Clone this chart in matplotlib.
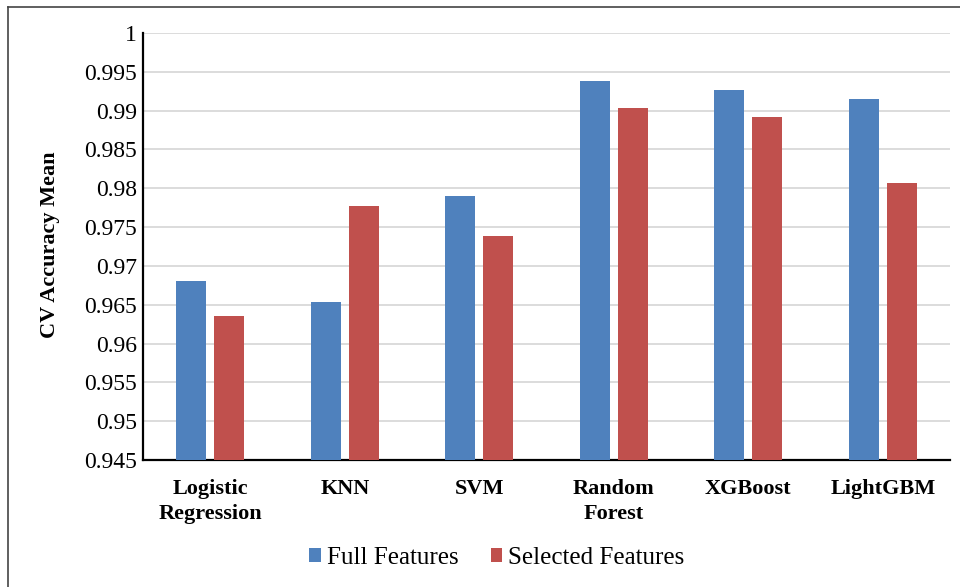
import numpy as np
import matplotlib
matplotlib.use("Agg")
import matplotlib.pyplot as plt
from matplotlib.lines import Line2D

# --- data ---
models = ["Logistic\nRegression", "KNN", "SVM", "Random\nForest", "XGBoost", "LightGBM"]
full_features = [0.9681, 0.9653, 0.9790, 0.9938, 0.9926, 0.9915]
selected_features = [0.9636, 0.9777, 0.9739, 0.9903, 0.9892, 0.9807]
y_ticks = [0.945, 0.95, 0.955, 0.96, 0.965, 0.97, 0.975, 0.98, 0.985, 0.99, 0.995, 1.0]
y_labels = ["0.945", "0.95", "0.955", "0.96", "0.965", "0.97", "0.975", "0.98", "0.985", "0.99", "0.995", "1"]

plt.rcParams["font.family"] = ["Liberation Serif", "DejaVu Serif"]

fig = plt.figure(figsize=(9.6, 5.87), dpi=100)
ax = fig.add_axes([143 / 960, 1 - 460 / 587, 807 / 960, 427 / 587])

x = np.arange(len(models))
w = 0.223
gap = 0.062
ax.bar(x - (w + gap) / 2, full_features, w, color="#4F81BD", label="Full Features", zorder=3)
ax.bar(x + (w + gap) / 2, selected_features, w, color="#C0504D", label="Selected Features", zorder=3)

ax.set_xlim(-0.5, len(models) - 0.5)
ax.set_ylim(0.945, 1.0)
ax.set_yticks(y_ticks)
ax.set_yticklabels(y_labels, fontsize=17)
ax.set_xticks(x)
ax.set_xticklabels(models, fontsize=16, fontweight="bold", linespacing=1.3)
ax.tick_params(axis="x", length=0, pad=14)
ax.tick_params(axis="y", length=0, pad=4.5)
ax.grid(axis="y", color="#D9D9D9", linewidth=1.3, zorder=0)

for side in ["top", "right"]:
    ax.spines[side].set_visible(False)
ax.spines["left"].set_linewidth(1.6)
ax.spines["bottom"].set_linewidth(1.6)

ax.set_ylabel("CV Accuracy Mean", fontsize=16, fontweight="bold")
ax.yaxis.set_label_coords(-0.103, 0.503)

fig.legend(loc="center", bbox_to_anchor=(497 / 960, 1 - 558 / 587), ncol=2, frameon=False,
           fontsize=18, handlelength=0.45, handleheight=0.45, handletextpad=0.25, columnspacing=1.3)

# frame around the chart: only its top and left edges fall inside the image
fig.lines.append(Line2D([8 / 960, 8 / 960], [0, 1 - 7 / 587], transform=fig.transFigure,
                        color="#444444", linewidth=1.2))
fig.lines.append(Line2D([8 / 960, 1], [1 - 7 / 587, 1 - 7 / 587], transform=fig.transFigure,
                        color="#444444", linewidth=1.2))

fig.savefig("out.png", dpi=100)
